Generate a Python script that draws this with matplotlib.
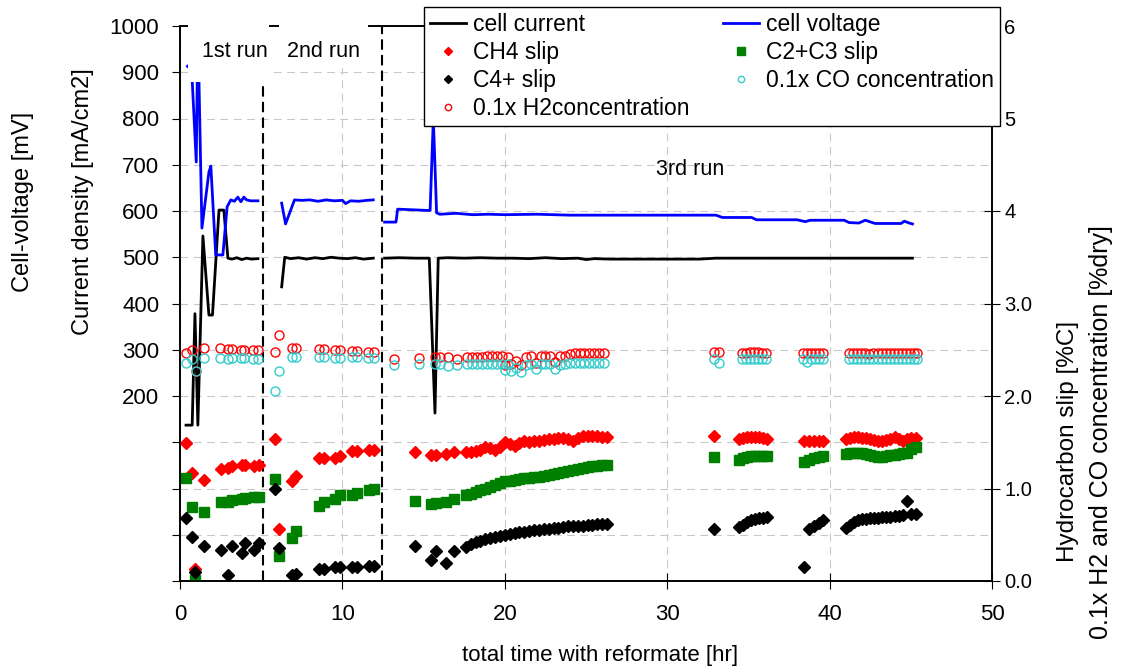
import matplotlib.pyplot as plt
from matplotlib.patches import Rectangle

plt.rcParams['font.family'] = ['Liberation Sans', 'DejaVu Sans']

# ---- cell current [mA/cm2] (left axis) ----
cur1_t = [0.37, 0.75, 0.92, 1.1, 1.41, 1.78, 2.0, 2.4, 2.7, 2.95, 3.2, 3.5, 3.8, 4.1, 4.4, 4.8]
cur1_v = [137, 137, 378, 137, 546, 375, 375, 602, 602, 498, 496, 499, 495, 498, 496, 497]
cur2_t = [6.26, 6.45, 6.8, 7.3, 7.8, 8.3, 8.8, 9.3, 9.8, 10.3, 10.8, 11.3, 11.9]
cur2_v = [436, 500, 497, 499, 496, 499, 497, 500, 498, 497, 499, 496, 498]
cur3_t = [12.6, 13.5, 14.5, 15.35, 15.7, 15.9, 16.5, 17.5, 18.5, 19.5, 20.5, 21.5, 22.5, 23.5,
          24.5, 25.0, 25.5, 26.5, 28, 30, 32, 33, 34, 36, 38, 40, 42, 44, 45.1]
cur3_v = [498, 499, 498, 498, 163, 498, 499, 498, 499, 498, 498, 497, 499, 497,
          498, 495, 497, 496, 496, 496, 496, 498, 498, 498, 498, 498, 498, 498, 498]

# ---- cell voltage [mV] (left axis) ----
volt1_t = [0.46, 0.72, 1.0, 1.1, 1.35, 1.78, 1.9, 2.2, 2.64, 2.9, 3.13, 3.35, 3.56, 3.75, 3.93, 4.1, 4.35, 4.8]
volt1_v = [913, 905, 706, 1000, 563, 684, 697, 505, 505, 609, 624, 621, 630, 620, 630, 624, 622, 622]
volt2_t = [6.26, 6.5, 7.05, 7.5, 8.0, 8.5, 9.0, 9.5, 10.0, 10.2, 10.5, 11.0, 11.5, 11.9]
volt2_v = [617, 572, 624, 623, 624, 621, 624, 622, 623, 616, 622, 621, 623, 624]
volt3_t = [12.6, 13.3, 13.4, 15.4, 15.6, 15.8, 16.0, 17, 18, 19, 20, 22, 24, 26, 28, 30, 32,
           33.0, 33.4, 35.2, 35.5, 38.0, 38.5, 38.8, 39.1, 39.4, 40.9, 41.2, 41.8, 42.2,
           42.8, 44.4, 44.6, 44.9, 45.1]
volt3_v = [576, 576, 604, 601, 800, 596, 593, 595, 592, 593, 592, 593, 591, 591, 591, 591, 591,
           591, 586, 586, 581, 581, 577, 580, 580, 580, 580, 575, 574, 580,
           573, 573, 578, 574, 572]

# ---- hydrocarbon slip [%C] (right axis) ----
slip_t = [0.4, 0.72, 0.95, 1.45, 2.5, 2.95, 3.22, 3.8, 4.02, 4.55, 4.85,
          5.87, 6.12, 6.87, 7.15, 8.57, 8.84, 9.57, 9.87, 10.6, 10.92, 11.62, 11.95,
          14.45, 15.45, 15.75, 16.35, 16.85,
          17.6, 17.9, 18.2, 18.5, 18.8, 19.1, 19.4, 19.7, 20.0, 20.3, 20.6, 20.9, 21.2, 21.5, 21.8,
          22.1, 22.4, 22.7, 23.0, 23.3, 23.6, 23.9, 24.2, 24.5, 24.8, 25.1, 25.4, 25.7, 26.0, 26.3,
          32.9, 34.4, 34.65, 34.9, 35.15, 35.4, 35.65, 35.9, 36.15,
          38.45, 38.75, 39.05, 39.35, 39.6,
          41.0, 41.25, 41.5, 41.75, 42.0, 42.25, 42.5, 42.75, 43.0, 43.25, 43.5, 43.75,
          44.0, 44.25, 44.5, 44.75, 45.0, 45.3]
ch4 = [1.49, 1.17, 0.13, 1.09, 1.21, 1.22, 1.24, 1.25, 1.25, 1.24, 1.25,
       1.53, 0.56, 1.08, 1.13, 1.33, 1.33, 1.33, 1.35, 1.41, 1.41, 1.42, 1.42,
       1.39, 1.36, 1.36, 1.37, 1.39,
       1.40, 1.40, 1.41, 1.42, 1.45, 1.44, 1.42, 1.45, 1.50, 1.48, 1.46, 1.49, 1.51, 1.50, 1.51,
       1.51, 1.52, 1.53, 1.53, 1.55, 1.55, 1.53, 1.51, 1.55, 1.57, 1.57, 1.57, 1.57, 1.56, 1.56,
       1.57, 1.53, 1.55, 1.56, 1.56, 1.56, 1.56, 1.55, 1.53,
       1.51, 1.51, 1.51, 1.51, 1.51,
       1.53, 1.55, 1.56, 1.56, 1.55, 1.55, 1.53, 1.52, 1.51, 1.51, 1.52, 1.53,
       1.56, 1.53, 1.51, 1.53, 1.55, 1.55]
c2c3 = [1.11, 0.80, 0.01, 0.75, 0.85, 0.85, 0.88, 0.89, 0.90, 0.91, 0.91,
        1.10, 0.27, 0.46, 0.54, 0.81, 0.85, 0.89, 0.93, 0.93, 0.95, 0.98, 0.99,
        0.86, 0.83, 0.84, 0.85, 0.89,
        0.93, 0.94, 0.96, 0.98, 1.00, 1.02, 1.04, 1.06, 1.08, 1.08, 1.09, 1.10, 1.11, 1.11, 1.12,
        1.12, 1.14, 1.15, 1.16, 1.17, 1.18, 1.19, 1.20, 1.21, 1.22, 1.23, 1.24, 1.24, 1.25, 1.25,
        1.34, 1.31, 1.33, 1.34, 1.35, 1.35, 1.35, 1.35, 1.35,
        1.29, 1.31, 1.33, 1.34, 1.35,
        1.37, 1.38, 1.38, 1.38, 1.38, 1.37, 1.36, 1.35, 1.34, 1.34, 1.35, 1.36,
        1.36, 1.37, 1.38, 1.38, 1.43, 1.45]
c4 = [0.68, 0.48, 0.10, 0.38, 0.33, 0.07, 0.38, 0.30, 0.41, 0.33, 0.41,
      1.00, 0.36, 0.06, 0.08, 0.13, 0.13, 0.15, 0.15, 0.15, 0.15, 0.16, 0.16,
      0.38, 0.23, 0.32, 0.20, 0.32,
      0.37, 0.40, 0.42, 0.43, 0.45, 0.46, 0.48, 0.49, 0.50, 0.51, 0.52, 0.53, 0.53, 0.54, 0.55,
      0.55, 0.56, 0.56, 0.57, 0.57, 0.58, 0.59, 0.59, 0.60, 0.60, 0.61, 0.61, 0.62, 0.62, 0.62,
      0.56, 0.58, 0.61, 0.64, 0.66, 0.67, 0.68, 0.68, 0.69,
      0.155, 0.56, 0.60, 0.63, 0.66,
      0.57, 0.61, 0.64, 0.66, 0.67, 0.67, 0.68, 0.68, 0.68, 0.69, 0.69, 0.69,
      0.70, 0.70, 0.71, 0.87, 0.72, 0.72]

# ---- 0.1x H2 and CO concentration [%dry] (right axis) ----
gas_t = [0.4, 0.72, 1.0, 1.45, 2.47, 2.94, 3.19, 3.76, 3.97, 4.52, 4.83,
         5.85, 6.09, 6.87, 7.14, 8.57, 8.84, 9.57, 9.87, 10.6, 10.92, 11.6, 11.92,
         13.2, 14.7, 15.7, 16.0, 16.5, 17.05,
         17.7, 18.0, 18.3, 18.6, 18.9, 19.2, 19.5, 19.8, 20.0, 20.2, 20.4, 20.7, 21.0, 21.3, 21.6,
         21.9, 22.2, 22.5, 22.8, 23.1, 23.4, 23.7, 24.0, 24.3, 24.6, 24.9, 25.2, 25.5, 25.8, 26.1,
         32.9, 33.2, 34.6, 34.85, 35.1, 35.35, 35.6, 35.85, 36.1,
         38.35, 38.6, 38.85, 39.1, 39.35, 39.6,
         41.2, 41.45, 41.7, 41.95, 42.2, 42.45, 42.7, 42.95, 43.2, 43.45, 43.7, 43.95,
         44.2, 44.45, 44.7, 44.95, 45.2, 45.4]
h2 = [2.46, 2.50, 2.27, 2.52, 2.52, 2.51, 2.51, 2.50, 2.50, 2.50, 2.50,
      2.48, 2.66, 2.52, 2.52, 2.51, 2.51, 2.50, 2.50, 2.49, 2.49, 2.48, 2.48,
      2.40, 2.41, 2.42, 2.42, 2.42, 2.40,
      2.42, 2.42, 2.42, 2.42, 2.43, 2.43, 2.43, 2.43, 2.33, 2.42, 2.35, 2.38, 2.33, 2.42, 2.43,
      2.36, 2.43, 2.43, 2.43, 2.37, 2.43, 2.43, 2.45, 2.46, 2.46, 2.46, 2.47, 2.47, 2.47, 2.47,
      2.48, 2.48, 2.46, 2.47, 2.48, 2.48, 2.48, 2.47, 2.46,
      2.46, 2.46, 2.46, 2.46, 2.46, 2.46,
      2.46, 2.46, 2.46, 2.47, 2.46, 2.45, 2.46, 2.46, 2.46, 2.46, 2.46, 2.46,
      2.46, 2.46, 2.46, 2.46, 2.46, 2.46]
co = [2.36, 2.40, 2.27, 2.41, 2.41, 2.40, 2.41, 2.41, 2.41, 2.40, 2.40,
      2.05, 2.27, 2.42, 2.42, 2.42, 2.42, 2.41, 2.41, 2.42, 2.42, 2.41, 2.41,
      2.33, 2.35, 2.35, 2.35, 2.32, 2.33,
      2.35, 2.35, 2.35, 2.35, 2.35, 2.35, 2.35, 2.35, 2.28, 2.35, 2.27, 2.30, 2.26, 2.33, 2.35,
      2.29, 2.35, 2.35, 2.35, 2.29, 2.33, 2.35, 2.36, 2.36, 2.36, 2.36, 2.36, 2.36, 2.36, 2.36,
      2.40, 2.36, 2.40, 2.40, 2.40, 2.40, 2.40, 2.40, 2.40,
      2.40, 2.37, 2.40, 2.40, 2.40, 2.40,
      2.40, 2.40, 2.40, 2.40, 2.40, 2.40, 2.40, 2.40, 2.40, 2.40, 2.40, 2.40,
      2.40, 2.40, 2.40, 2.40, 2.40, 2.40]

run_breaks = [5.13, 12.43]
run_labels = ['1st run', '2nd run', '3rd run']
run_label_pos = [(3.37, 944), (8.83, 944), (31.4, 689)]

left_ticks = list(range(-200, 1001, 100))
left_ticklabels = [str(v) if v >= 200 else '' for v in left_ticks]
right_ticks = [0, 1, 2, 3, 4, 5, 6]
right_ticklabels = ['0.0', '1.0', '2.0', '3.0', '4', '5', '6']

fig = plt.figure(figsize=(11.23, 6.7), dpi=100)
ax = fig.add_axes([180 / 1123, 1 - 581 / 670, 812 / 1123, 555 / 670])
ax2 = ax.twinx()

# lines
ax.plot(cur1_t, cur1_v, color='black', lw=2, label='cell current')
ax.plot(cur2_t, cur2_v, color='black', lw=2)
ax.plot(cur3_t, cur3_v, color='black', lw=2)
ax.plot(volt1_t, volt1_v, color='#0000ff', lw=2, label='cell voltage')
ax.plot(volt2_t, volt2_v, color='#0000ff', lw=2)
ax.plot(volt3_t, volt3_v, color='#0000ff', lw=2)

for b in run_breaks:
    ax.axvline(b, color='black', lw=1.5, ls=(0, (5, 2.5)), zorder=3)

ax.set_xlim(0, 50)
ax.set_ylim(-200, 1000)
ax.set_xticks([0, 10, 20, 30, 40, 50])
ax.set_yticks(left_ticks)
ax.set_yticklabels(left_ticklabels)
ax.tick_params(axis='y', direction='out', length=6, labelsize=16, pad=9)
ax.tick_params(axis='x', direction='inout', length=11, labelsize=16, pad=11)
ax.grid(True, color='#c8c8c8', lw=0.8, ls=(0, (7, 5)))
ax.set_axisbelow(True)

# scatter series
ax2.plot(slip_t, ch4, ls='none', marker='D', ms=6.2, color='#ff0000', mec='#ff0000', label='CH4 slip')
ax2.plot(slip_t, c2c3, ls='none', marker='s', ms=7.3, color='#008000', mec='#008000', label='C2+C3 slip')
ax2.plot(slip_t, c4, ls='none', marker='D', ms=6.2, color='black', label='C4+ slip')
ax2.plot(gas_t, h2, ls='none', marker='o', ms=6.5, mfc='none', mec='#ff0000', mew=1, label='0.1x H2concentration')
ax2.plot(gas_t, co, ls='none', marker='o', ms=6.5, mfc='none', mec='#33cccc', mew=1, label='0.1x CO concentration')
ax2.set_ylim(0, 6)
ax2.set_yticks(right_ticks)
ax2.set_yticklabels(right_ticklabels)
ax2.tick_params(axis='y', direction='inout', length=11, labelsize=14.5)

for a in (ax, ax2):
    for s in a.spines.values():
        s.set_linewidth(1.2)

# white boxes behind the run labels (hide top spine and line tops)
ax2.add_patch(Rectangle((0.47, 0.899), 5.03, 0.12, transform=ax2.get_xaxis_transform(),
                        facecolor='white', edgecolor='none', clip_on=False, zorder=4))
ax2.add_patch(Rectangle((6.07, 0.924), 5.5, 0.1, transform=ax2.get_xaxis_transform(),
                        facecolor='white', edgecolor='none', clip_on=False, zorder=4))
for txt, (tx, ty) in zip(run_labels, run_label_pos):
    ax2.text(tx, ty, txt, transform=ax.transData, ha='center', va='center', fontsize=15.5, zorder=5)

# axis labels
fig.text(23 / 1123, 1 - 202 / 670, 'Cell-voltage [mV]', rotation=90, ha='center', va='center', fontsize=17)
fig.text(83 / 1123, 1 - 202 / 670, 'Current density [mA/cm2]', rotation=90, ha='center', va='center', fontsize=17)
fig.text(1068 / 1123, 1 - 441 / 670, 'Hydrocarbon slip [%C]', rotation=90, ha='center', va='center', fontsize=17.5)
fig.text(1101 / 1123, 1 - 432 / 670, '0.1x H2 and CO concentration [%dry]', rotation=90,
         ha='center', va='center', fontsize=18)
fig.text(600 / 1123, 1 - 655 / 670, 'total time with reformate [hr]', ha='center', va='center', fontsize=16)

# legend (column-major order, 2 columns)
h1, l1 = ax.get_legend_handles_labels()
h2_, l2_ = ax2.get_legend_handles_labels()
hd = dict(zip(l1 + l2_, h1 + h2_))
order = ['cell current', 'CH4 slip', 'C4+ slip', '0.1x H2concentration',
         'cell voltage', 'C2+C3 slip', '0.1x CO concentration']
leg = fig.legend([hd[k] for k in order], order, loc='upper left',
                 bbox_to_anchor=(424 / 1123, 1 - 7 / 670, 576 / 1123, 0), mode='expand',
                 borderaxespad=0, ncol=2, fontsize=16.5, frameon=True, fancybox=False,
                 framealpha=1, edgecolor='black', markerscale=0.7, handlelength=1.6,
                 handletextpad=0.3, labelspacing=0.22, borderpad=0.25, columnspacing=1.0)
leg.set_zorder(10)
leg.get_frame().set_linewidth(1.0)

fig.savefig('out.png', dpi=100)
